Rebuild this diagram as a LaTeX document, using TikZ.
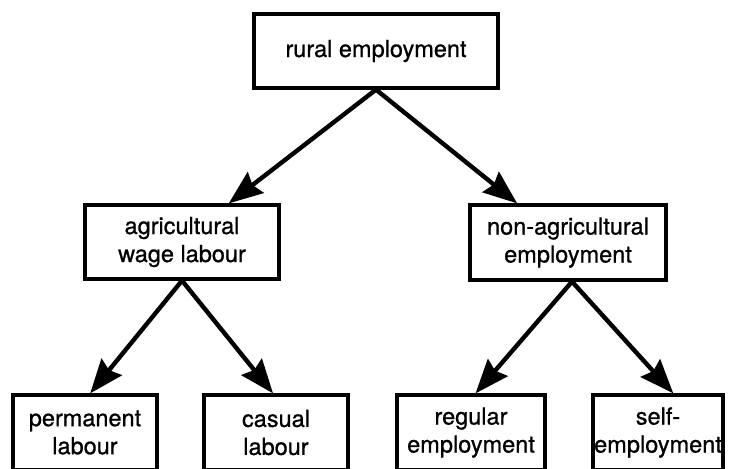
\documentclass[tikz,border=0pt]{standalone}
\usepackage{fontspec}
\setmainfont{TeX Gyre Heros}[FakeBold=0.8]
\usetikzlibrary{arrows.meta,calc}
\begin{document}
\begin{tikzpicture}[x=1pt,y=-1pt,
  box/.style={draw=black,line width=3.2pt,fill=white,align=center,inner sep=0pt,
    minimum height=74pt,font=\fontsize{23.5}{28}\selectfont},
  conn/.style={line width=4.4pt,-{Stealth[length=34pt,width=26pt,inset=4pt]}}]
\clip (0,0) rectangle (732,469);
\fill[white] (0,0) rectangle (732,469);
\node[box,minimum width=244pt] (top) at (376,51) {rural employment};
\node[box,minimum width=194pt] (agri) at (182,242) {agricultural\\wage labour};
\node[box,minimum width=196pt,minimum height=75pt] (nonagri) at (568,242.5) {non-agricultural\\employment};
\node[box,minimum width=144pt,minimum height=75pt] (perm) at (85,432.5) {permanent\\labour};
\node[box,minimum width=144pt,minimum height=75pt] (casual) at (276,432.5) {casual\\labour};
\node[box,minimum width=148pt,minimum height=75pt] (regular) at (471,432.5) {regular\\employment};
\node[box,minimum width=130pt,minimum height=75pt] (self) at (658,432.5) {self-\\employment};
\coordinate (tA) at ($(agri.north west)!0.737!(agri.north east)$);
\coordinate (tN) at ($(nonagri.north west)!0.245!(nonagri.north east)$);
\coordinate (tP) at ($(perm.north west)!0.535!(perm.north east)$);
\coordinate (tC) at ($(casual.north west)!0.48!(casual.north east)$);
\coordinate (tR) at ($(regular.north west)!0.53!(regular.north east)$);
\coordinate (tS) at ($(self.north west)!0.615!(self.north east)$);
\draw[conn] (top.south) -- (tA);
\draw[conn] (top.south) -- (tN);
\draw[conn] (agri.south) -- (tP);
\draw[conn] (agri.south) -- (tC);
\draw[conn] ($(nonagri.south)+(4,0)$) -- (tR);
\draw[conn] ($(nonagri.south)+(4,0)$) -- (tS);
\end{tikzpicture}
\end{document}
